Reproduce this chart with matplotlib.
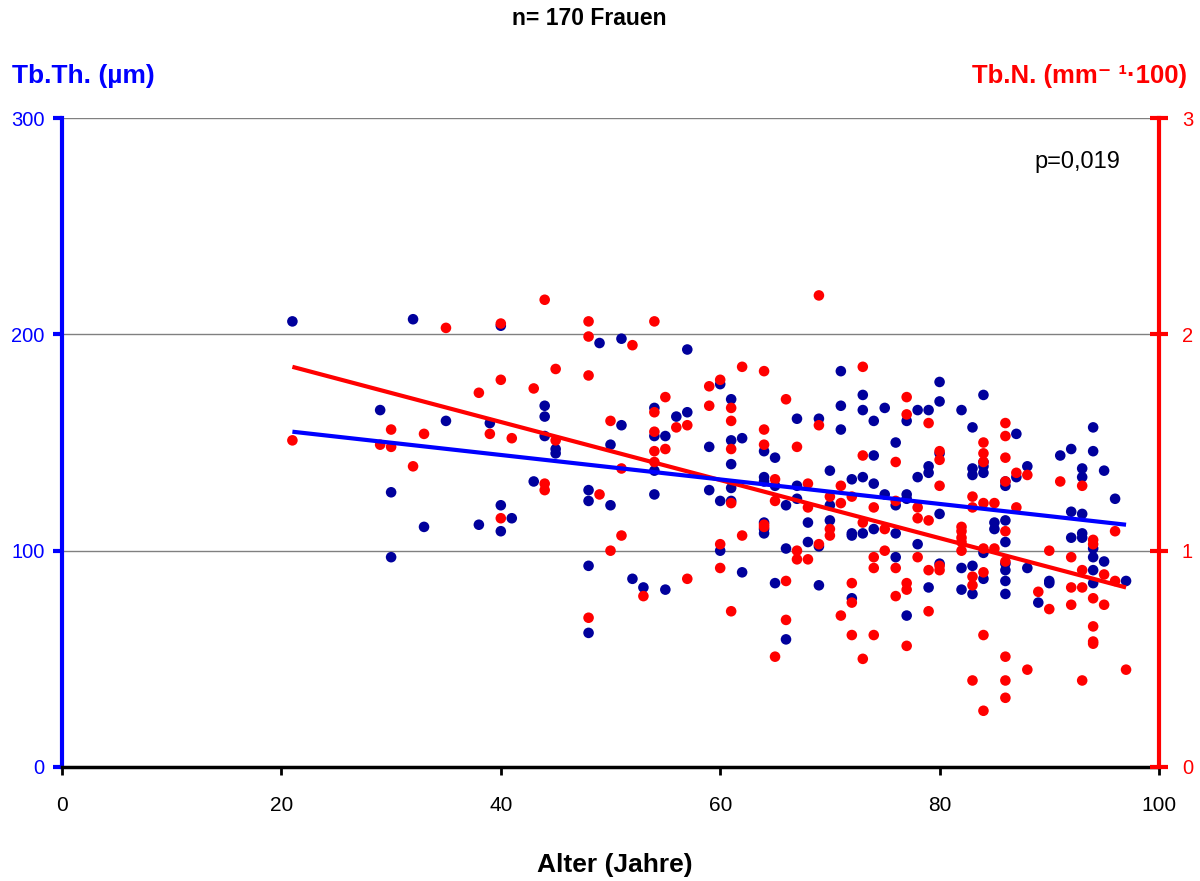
import matplotlib
matplotlib.use("Agg")
from matplotlib import pyplot as plt

plt.rcParams["font.family"] = ["Liberation Sans", "DejaVu Sans"]

# Tb.Th. (µm), left axis
blue_age = [21, 29, 30, 30, 32, 33, 35, 38, 39, 40, 40, 40, 41, 43, 44, 44, 44, 45, 45,
            48, 48, 48, 48, 49, 50, 50, 51, 51, 52, 53, 54, 54, 54, 54, 55, 55, 56, 57, 57,
            59, 59, 60, 60, 60, 61, 61, 61, 61, 61, 62, 62, 64, 64, 64, 64, 64, 64,
            65, 65, 65, 66, 66, 66, 67, 67, 67, 68, 68, 69, 69, 69, 70, 70, 70, 71, 71, 71,
            72, 72, 72, 72, 73, 73, 73, 73, 74, 74, 74, 74, 75, 75, 76, 76, 76, 76,
            77, 77, 77, 77, 78, 78, 78, 79, 79, 79, 79, 80, 80, 80, 80, 80, 82, 82, 82,
            83, 83, 83, 83, 83, 84, 84, 84, 84, 84, 84, 85, 85, 86, 86, 86, 86, 86, 86, 86, 86,
            87, 87, 88, 88, 89, 90, 90, 91, 92, 92, 92, 93, 93, 93, 93, 93,
            94, 94, 94, 94, 94, 94, 95, 95, 96, 97]
blue_tbth = [206, 165, 127, 97, 207, 111, 160, 112, 159, 204, 121, 109, 115, 132, 167, 162, 153, 147, 145,
             128, 123, 93, 62, 196, 149, 121, 198, 158, 87, 83, 166, 153, 137, 126, 153, 82, 162, 193, 164,
             148, 128, 177, 123, 100, 170, 151, 140, 129, 123, 152, 90, 146, 134, 132, 113, 110, 108,
             143, 130, 85, 121, 101, 59, 161, 130, 124, 113, 104, 161, 102, 84, 137, 121, 114, 183, 167, 156,
             133, 108, 107, 78, 172, 165, 134, 108, 160, 144, 131, 110, 166, 126, 150, 121, 108, 97,
             160, 126, 124, 70, 165, 134, 103, 165, 139, 136, 83, 178, 169, 145, 117, 94, 165, 92, 82,
             157, 138, 135, 93, 80, 172, 141, 139, 136, 99, 87, 113, 110, 132, 130, 114, 104, 94, 91, 86, 80,
             154, 134, 139, 92, 76, 86, 85, 144, 147, 118, 106, 138, 134, 117, 108, 106,
             157, 146, 101, 97, 91, 85, 137, 95, 124, 86]

# Tb.N. (mm^-1 * 100), right axis
red_age = [21, 29, 30, 30, 32, 33, 35, 38, 39, 40, 40, 40, 41, 43, 44, 44, 44, 45, 45,
           48, 48, 48, 48, 49, 50, 50, 51, 51, 52, 53, 54, 54, 54, 54, 54, 55, 55, 56, 57, 57,
           59, 59, 60, 60, 60, 61, 61, 61, 61, 61, 62, 62, 64, 64, 64, 64, 64,
           65, 65, 65, 66, 66, 66, 67, 67, 67, 68, 68, 68, 69, 69, 69, 70, 70, 70, 71, 71, 71,
           72, 72, 72, 72, 73, 73, 73, 73, 74, 74, 74, 74, 75, 75, 76, 76, 76, 76,
           77, 77, 77, 77, 77, 78, 78, 78, 79, 79, 79, 79, 80, 80, 80, 80, 80,
           82, 82, 82, 82, 82, 83, 83, 83, 83, 83, 84, 84, 84, 84, 84, 84, 84, 84, 85, 85,
           86, 86, 86, 86, 86, 86, 86, 86, 86, 87, 87, 88, 88, 89, 90, 90, 91, 92, 92, 92,
           93, 93, 93, 93, 94, 94, 94, 94, 94, 94, 95, 95, 96, 96, 97]
red_tbn = [1.51, 1.49, 1.56, 1.48, 1.39, 1.54, 2.03, 1.73, 1.54, 2.05, 1.79, 1.15, 1.52, 1.75, 2.16, 1.31, 1.28, 1.84, 1.51,
           2.06, 1.99, 1.81, 0.69, 1.26, 1.60, 1.00, 1.38, 1.07, 1.95, 0.79, 2.06, 1.64, 1.55, 1.46, 1.41, 1.71, 1.47, 1.57, 1.58, 0.87,
           1.76, 1.67, 1.79, 1.03, 0.92, 1.66, 1.60, 1.47, 1.22, 0.72, 1.85, 1.07, 1.83, 1.56, 1.49, 1.12, 1.11,
           1.33, 1.23, 0.51, 1.70, 0.86, 0.68, 1.48, 1.00, 0.96, 1.31, 1.20, 0.96, 2.18, 1.58, 1.03, 1.25, 1.10, 1.07, 1.30, 1.22, 0.70,
           1.25, 0.85, 0.76, 0.61, 1.85, 1.44, 1.13, 0.50, 1.20, 0.97, 0.92, 0.61, 1.10, 1.00, 1.41, 1.23, 0.92, 0.79,
           1.71, 1.63, 0.85, 0.82, 0.56, 1.20, 1.15, 0.97, 1.59, 1.14, 0.91, 0.72, 1.46, 1.42, 1.30, 0.93, 0.91,
           1.11, 1.09, 1.06, 1.04, 1.00, 1.25, 1.20, 0.88, 0.84, 0.40, 1.50, 1.45, 1.41, 1.22, 1.01, 0.90, 0.61, 0.26, 1.22, 1.01,
           1.59, 1.53, 1.43, 1.32, 1.09, 0.95, 0.51, 0.40, 0.32, 1.36, 1.20, 1.35, 0.45, 0.81, 1.00, 0.73, 1.32, 0.97, 0.83, 0.75,
           1.30, 0.91, 0.83, 0.40, 1.05, 1.03, 0.78, 0.65, 0.58, 0.57, 0.89, 0.75, 1.09, 0.86, 0.45]

# regression lines
fit_age = [21, 97]
fit_tbth = [155, 112]
fit_tbn = [1.85, 0.83]

x_ticks = [0, 20, 40, 60, 80, 100]
left_ticks = [0, 100, 200, 300]
right_ticks = [0, 1, 2, 3]

BLUE = "#0000FF"
NAVY = "#00009C"
RED = "#FF0000"

fig = plt.figure(figsize=(12, 8.81), dpi=100)
ax = fig.add_axes([0.0517, 0.1294, 0.9141, 0.7366])
ax2 = ax.twinx()

for v in left_ticks[1:]:
    ax.axhline(v, color="#808080", lw=1.0, zorder=0)

ax.scatter(blue_age, blue_tbth, s=58, color=NAVY, edgecolors="none", zorder=2)
ax2.scatter(red_age, red_tbn, s=58, color=RED, edgecolors="none", zorder=2)
ax2.plot(fit_age, fit_tbn, color=RED, lw=3, zorder=3, solid_capstyle="butt")
ax2.plot(fit_age, fit_tbth, color=BLUE, lw=3, zorder=4, solid_capstyle="butt",
         transform=ax.transData)

ax.set_xlim(0, 100)
ax.set_ylim(0, 300)
ax2.set_ylim(0, 3)
ax.set_xticks(x_ticks)
ax.set_yticks(left_ticks)
ax2.set_yticks(right_ticks)

for a in (ax, ax2):
    a.spines["top"].set_visible(False)
ax.spines["right"].set_visible(False)
ax2.spines["left"].set_visible(False)
ax2.spines["bottom"].set_visible(False)
ax.spines["left"].set_color(BLUE)
ax.spines["left"].set_linewidth(3)
ax.spines["bottom"].set_color("black")
ax.spines["bottom"].set_linewidth(2.5)
ax2.spines["right"].set_color(RED)
ax2.spines["right"].set_linewidth(3)

ax.tick_params(axis="x", direction="out", length=6, width=2, color="black",
               pad=15, labelsize=15)
ax.tick_params(axis="y", direction="out", length=6.5, width=3, color=BLUE,
               labelcolor=BLUE, pad=6, labelsize=14.5)
ax2.tick_params(axis="y", direction="inout", length=13, width=3, color=RED,
                labelcolor=RED, pad=10, labelsize=14.5)
for lbl in ax.get_yticklabels() + ax2.get_yticklabels():
    lbl.set_verticalalignment("center_baseline")

ax.text(0.9645, 0.932, "p=0,019", transform=ax.transAxes, ha="right",
        va="center", fontsize=17)

fig.text(0.491, 0.979, "n= 170 Frauen", ha="center", va="center",
         fontsize=16.5, fontweight="bold")
fig.text(0.01, 0.914, "Tb.Th. (µm)", ha="left", va="center", fontsize=19,
         fontweight="bold", color=BLUE)
fig.text(0.989, 0.914, "Tb.N. (mm⁻ ¹·100)", ha="right", va="center",
         fontsize=18.5, fontweight="bold", color=RED)
fig.text(0.5125, 0.018, "Alter (Jahre)", ha="center", va="center",
         fontsize=19, fontweight="bold")

fig.savefig("out.png", dpi=100)
